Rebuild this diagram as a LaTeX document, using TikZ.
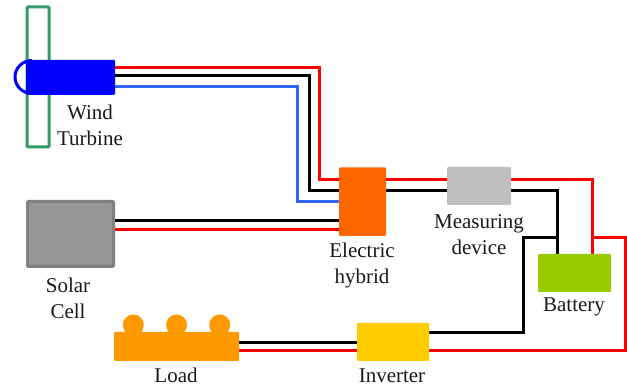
\documentclass[tikz,border=0pt]{standalone}
\usepackage{fontspec}
\setmainfont{Liberation Serif}
\usetikzlibrary{backgrounds}
\definecolor{wred}{HTML}{FF0000}
\definecolor{wblue}{HTML}{3366FF}
\tikzset{
  unit/.style={draw=none,rounded corners=1pt,inner sep=0pt,minimum width=#1},
  lab/.style={font=\fontsize{21}{26}\selectfont,align=center,inner sep=0pt,text=black!90},
  redw/.style={draw=wred,line width=3pt,line join=miter},
  blackw/.style={draw=black,line width=3pt,line join=miter},
  bluew/.style={draw=wblue,line width=3pt,line join=miter}
}
\begin{document}
\begin{tikzpicture}[x=1pt,y=-1pt]
\useasboundingbox (0,0) rectangle (627,387);
% blade and hub
\node[draw={rgb,255:red,51;green,153;blue,102},line width=3pt,rounded corners=1pt,inner sep=0pt,minimum width=22pt,minimum height=140pt,anchor=center] (blade) at (38,77) {};
\draw[draw=blue,line width=3pt] (32,93.5) arc[start angle=90,end angle=270,x radius=17,y radius=16.5];
\node[unit=89pt,fill=blue,minimum height=35pt] (turb) at (70.5,77.5) {};
\node[unit=89pt,fill={rgb,255:red,150;green,150;blue,150},draw={rgb,255:red,128;green,128;blue,128},line width=3pt,minimum width=86pt,minimum height=65pt] (solar) at (70.5,234) {};
\node[unit=47pt,fill={rgb,255:red,255;green,102;blue,0},minimum height=68.5pt] (hybrid) at (362.5,201.7) {};
\node[unit=64pt,fill={rgb,255:red,191;green,191;blue,191},minimum height=38pt] (meas) at (479,186) {};
\node[unit=73pt,fill={rgb,255:red,153;green,204;blue,0},minimum height=38pt] (batt) at (574.5,273) {};
\node[unit=72pt,fill={rgb,255:red,255;green,204;blue,0},minimum height=38pt] (inv) at (393,342) {};
\node[unit=125pt,fill={rgb,255:red,255;green,153;blue,0},minimum height=29pt] (load) at (176.5,346.5) {};
\foreach \n/\x in {a/133.3,b/176.5,c/219.7}
  \node[circle,fill={rgb,255:red,255;green,153;blue,0},inner sep=0pt,minimum size=21pt] (bump\n) at (\x,325) {};
\coordinate (rtop) at (592,180);
\coordinate (btee) at (557,238);
\coordinate (rtee) at (592,238);
\begin{scope}[on background layer]
\draw[redw] (turb.east |- 0,67.5) -| (319,180) -- (hybrid.west |- 0,180);
\draw[blackw] (turb.east |- 0,76) -| (309,191) -- (hybrid.west |- 0,191);
\draw[bluew] (turb.east |- 0,87) -| (297,202) -- (hybrid.west |- 0,202);
\draw[blackw] (solar.east |- 0,221) -- (hybrid.west |- 0,221);
\draw[redw] (solar.east |- 0,229.5) -- (hybrid.west |- 0,229.5);
\draw[redw] (hybrid.east |- 0,180) -- (meas.west |- 0,180);
\draw[blackw] (hybrid.east |- 0,191) -- (meas.west |- 0,191);
\draw[redw] (meas.east |- 0,180) -| (rtop) -- (rtop |- batt.north);
\draw[blackw] (meas.east |- 0,191) -| (btee) -- (btee |- batt.north);
\draw[blackw] (btee) -| (523,333) -- (inv.east |- 0,333);
\draw[redw] (rtee) -| (625,351) -- (inv.east |- 0,351);
\draw[blackw] (load.east |- 0,342.5) -- (inv.west |- 0,342.5);
\draw[redw] (load.east |- 0,351) -- (inv.west |- 0,351);
\end{scope}
\node[lab] (lwind) at (90,125) {Wind\\Turbine};
\node[lab] (lsolar) at (68,298) {Solar\\Cell};
\node[lab] (lhyb) at (362,265) {Electric\\hybrid};
\node[lab] (lmeas) at (479,234.5) {Measuring\\device};
\node[lab] (lbatt) at (574,307) {Battery};
\node[lab] (lload) at (176,375.5) {Load};
\node[lab] (linv) at (392,376) {Inverter};
\end{tikzpicture}
\end{document}
